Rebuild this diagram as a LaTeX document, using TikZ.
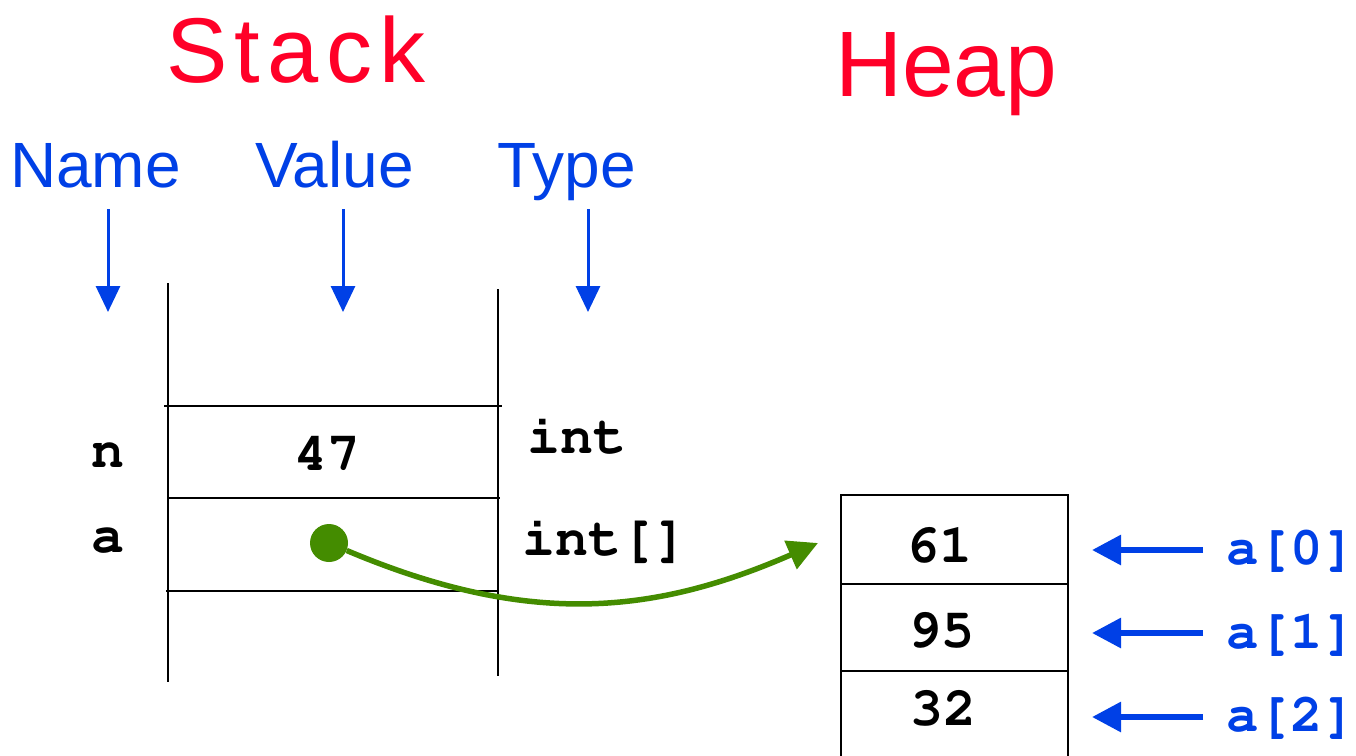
\documentclass[tikz,border=0pt]{standalone}
\usepackage[T1]{fontenc}
\usepackage{fontspec}
\setmainfont{Liberation Sans}
\newfontfamily\spacedfont{Liberation Sans}[LetterSpace=8]
\newcommand\codefont{\usefont{T1}{pcr}{b}{n}}
\usetikzlibrary{arrows.meta}

\definecolor{titlered}{RGB}{255,0,40}
\definecolor{labelblue}{RGB}{0,64,230}
\definecolor{refgreen}{RGB}{68,140,0}

\tikzset{
  txt/.style={inner sep=0pt, outer sep=0pt},
  title/.style={txt, text=titlered, font=\fontsize{93}{93}\selectfont},
  colhead/.style={txt, text=labelblue, font=\fontsize{64}{64}\selectfont},
  code/.style={txt, font=\fontsize{55}{55}\codefont},
  bluecode/.style={txt, text=labelblue, font=\fontsize{54}{54}\codefont},
  frame/.style={draw=black, line width=2pt},
  downarrow/.style={draw=labelblue, line width=3pt,
    -{Triangle[length=26pt, width=24pt]}},
  leftarrow/.style={draw=labelblue, line width=6pt,
    -{Triangle[length=29pt, width=29pt]}},
  cell/.style={draw=black, line width=2pt, minimum width=227pt, inner sep=0pt},
  pointer/.style={draw=refgreen, line width=5.5pt,
    -{Triangle[length=30pt, width=30pt]}},
}

\begin{document}
\begin{tikzpicture}[x=1pt, y=-1pt]
  \useasboundingbox (0,0) rectangle (1356,755);
  \clip (0,0) rectangle (1356,755);

  % section titles
  \node[title, anchor=base west, font=\spacedfont\fontsize{92}{92}\selectfont] (stack) at (166,82) {Stack};
  \node[title, anchor=base west] (heap) at (835,96) {Heap};

  % column headings
  \node[colhead, anchor=base west] (hname)  at (10,187)  {Name};
  \node[colhead, anchor=base west] (hvalue) at (255,187) {Value};
  \node[colhead, anchor=base west] (htype)  at (497,187) {Type};

  \coordinate (nameTop)  at (108,209);  \coordinate (nameTip)  at (108,312);
  \coordinate (valueTop) at (343,209);  \coordinate (valueTip) at (343,312);
  \coordinate (typeTop)  at (588,209);  \coordinate (typeTip)  at (588,312);
  \draw[downarrow] (nameTop)  -- (nameTip);
  \draw[downarrow] (valueTop) -- (valueTip);
  \draw[downarrow] (typeTop)  -- (typeTip);

  % stack frame
  \draw[frame] (168,283) -- (168,682);
  \draw[frame] (498,289) -- (498,676);
  \draw[frame] (164,406) -- (502,406);
  \draw[frame] (168,498) -- (500,498);
  \draw[frame] (166,591) -- (498,591);

  % stack variables
  \node[code, anchor=base] (varn)  at (108,467) {n};
  \node[code, anchor=base] (valn)  at (327,470) {47};
  \node[code, anchor=base west] (typen) at (527,453) {int};
  \node[code, anchor=base] (vara)  at (108,552) {a};
  \node[code, anchor=base west] (typea) at (522,555) {int[]};

  % heap array
  \node[cell, minimum height=89pt] (c0) at (954.5,539.5) {};
  \node[cell, minimum height=87pt] (c1) at (954.5,627.5) {};
  \node[cell, minimum height=95pt] (c2) at (954.5,718.5) {};
  \node[code, anchor=base] (v0) at (939,562) {61};
  \node[code, anchor=base] (v1) at (941,647) {95};
  \node[code, anchor=base] (v2) at (943,725) {32};

  % element labels
  \node[bluecode, anchor=base west] (e0) at (1226,564) {a[0]};
  \node[bluecode, anchor=base west] (e1) at (1226,648) {a[1]};
  \node[bluecode, anchor=base west] (e2) at (1226,731) {a[2]};
  \coordinate (t0) at (1203,550);  \coordinate (h0) at (1092,550);
  \coordinate (t1) at (1203,633);  \coordinate (h1) at (1092,633);
  \coordinate (t2) at (1203,717);  \coordinate (h2) at (1092,717);
  \draw[leftarrow] (t0) -- (h0);
  \draw[leftarrow] (t1) -- (h1);
  \draw[leftarrow] (t2) -- (h2);

  % reference from a to the array
  \node[circle, fill=refgreen, minimum size=38pt, inner sep=0pt] (dot) at (329,543) {};
  \coordinate (ptrTip) at (818,543);
  \draw[pointer] (dot) .. controls (530,628) and (655,614) .. (ptrTip);
\end{tikzpicture}
\end{document}
